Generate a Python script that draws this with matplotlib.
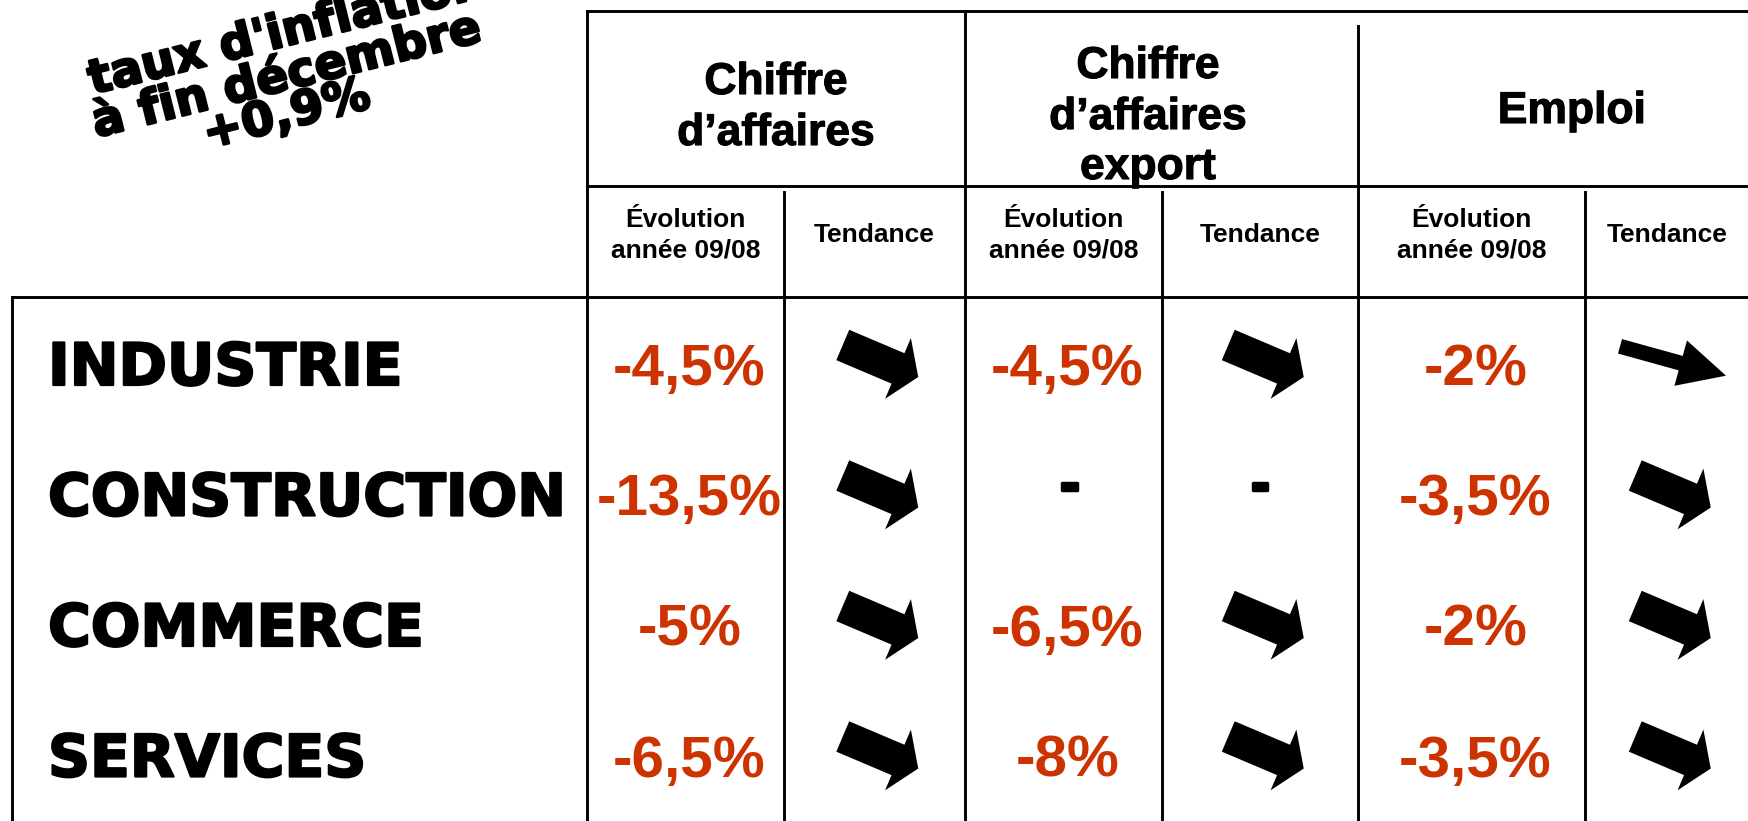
import numpy as np
import matplotlib
matplotlib.use("Agg")
import matplotlib.pyplot as plt
import matplotlib.patheffects as pe
from matplotlib.patches import Polygon

# donnees du tableau
titre = ["taux d'inflation", "à fin décembre", "+0,9%"]
secteurs = ["INDUSTRIE", "CONSTRUCTION", "COMMERCE", "SERVICES"]
indicateurs = ["Chiffre\nd’affaires", "Chiffre\nd’affaires\nexport", "Emploi"]
sous_titres = ["Évolution\nannée 09/08", "Tendance"]

evol_ca = ["-4,5%", "-13,5%", "-5%", "-6,5%"]
evol_export = ["-4,5%", "-", "-6,5%", "-8%"]
evol_emploi = ["-2%", "-3,5%", "-2%", "-3,5%"]

tend_ca = ["baisse", "baisse", "baisse", "baisse"]
tend_export = ["baisse", "-", "baisse", "baisse"]
tend_emploi = ["baisse_legere", "baisse", "baisse", "baisse"]

evolutions = [evol_ca, evol_export, evol_emploi]
tendances = [tend_ca, tend_export, tend_emploi]

ROUGE = "#CC3300"
W, H = 1749, 821

fig = plt.figure(figsize=(W / 100, H / 100), dpi=100)
ax = fig.add_axes([0, 0, 1, 1])
ax.set_xlim(0, W)
ax.set_ylim(H, 0)
ax.axis("off")

# grille du tableau (en pixels)
lw = 2.1
ax.plot([587, W], [11, 11], color="black", lw=lw)
ax.plot([587, W], [186, 186], color="black", lw=lw)
ax.plot([12, W], [297, 297], color="black", lw=lw)
ax.plot([587, 587], [11, H], color="black", lw=lw)
ax.plot([965, 965], [11, H], color="black", lw=lw)
ax.plot([1358, 1358], [26, H], color="black", lw=lw)
ax.plot([12, 12], [297, H], color="black", lw=lw)
for x in [784, 1162, 1585]:
    ax.plot([x, x], [192, H], color="black", lw=lw)

sous_bords = [587, 784, 965, 1162, 1358, 1585, W]

def texte_lignes(x, bases, txt, **kw):
    for b, t in zip(bases, txt.split("\n")):
        ax.text(x, b, t, ha="center", va="baseline", **kw)

# titres de colonnes
ent = dict(family="Liberation Sans", weight="bold", fontsize=32,
           path_effects=[pe.withStroke(linewidth=0.8, foreground="black")])
texte_lignes(776, [94, 145], indicateurs[0], **ent)
texte_lignes(1148, [78, 129, 179], indicateurs[1], **ent)
texte_lignes(1572, [123], indicateurs[2], **ent)

sub = dict(family="Liberation Sans", weight="bold", fontsize=19)
for k in range(3):
    x0, x1, x2 = sous_bords[2 * k], sous_bords[2 * k + 1], sous_bords[2 * k + 2]
    texte_lignes((x0 + x1) / 2, [227, 258], sous_titres[0], **sub)
    texte_lignes((x1 + x2) / 2, [242], sous_titres[1], **sub)

# fleches de tendance
def fleche(cx, cy, kind):
    if kind == "baisse_legere":
        L, bl, bw, hw, ang = 110, 63, 7.5, 23.5, 15.5
    else:
        L, bl, bw, hw, ang = 82, 60, 16.5, 33, 23
    pts = np.array([[0, -bw], [bl, -bw], [bl, -hw], [L, 0],
                    [bl, hw], [bl, bw], [0, bw]]) - [L / 2, 0]
    a = np.radians(ang)
    R = np.array([[np.cos(a), -np.sin(a)], [np.sin(a), np.cos(a)]])
    pts = pts @ R.T + [cx, cy]
    ax.add_patch(Polygon(pts, closed=True, fc="black", ec="none"))

gras = [pe.withStroke(linewidth=1.6, foreground="black")]
tiret = dict(family="Liberation Sans", weight="bold", fontsize=42, color="black",
             ha="center", va="baseline",
             path_effects=[pe.withStroke(linewidth=2.5, foreground="black")])

base = 385 + 130.5 * np.arange(len(secteurs))
for i, s in enumerate(secteurs):
    ax.text(48, base[i], s, ha="left", va="baseline",
            family="DejaVu Sans", weight="bold", fontsize=42, path_effects=gras)
    for k in range(3):
        x0, x1, x2 = sous_bords[2 * k], sous_bords[2 * k + 1], sous_bords[2 * k + 2]
        v = evolutions[k][i]
        if v == "-":
            ax.text((x0 + x1) / 2 + 6, base[i] - 14, "-", **tiret)
        else:
            ax.text((x0 + x1) / 2 + 4, base[i], v, ha="center", va="baseline",
                    family="Liberation Sans", weight="bold", fontsize=42, color=ROUGE)
        t = tendances[k][i]
        if t == "-":
            ax.text((x1 + x2) / 2, base[i] - 14, "-", **tiret)
        else:
            fleche((x1 + x2) / 2 + 6, base[i] - 24, t)

# titre en biais
for i, ligne in enumerate(titre):
    ax.text(290, [45, 89, 128][i], ligne, ha="center", va="baseline",
            rotation=14, rotation_mode="anchor",
            family="DejaVu Sans", weight="bold", fontsize=34,
            path_effects=[pe.withStroke(linewidth=1.8, foreground="black")])

fig.savefig("out.png", dpi=100)
